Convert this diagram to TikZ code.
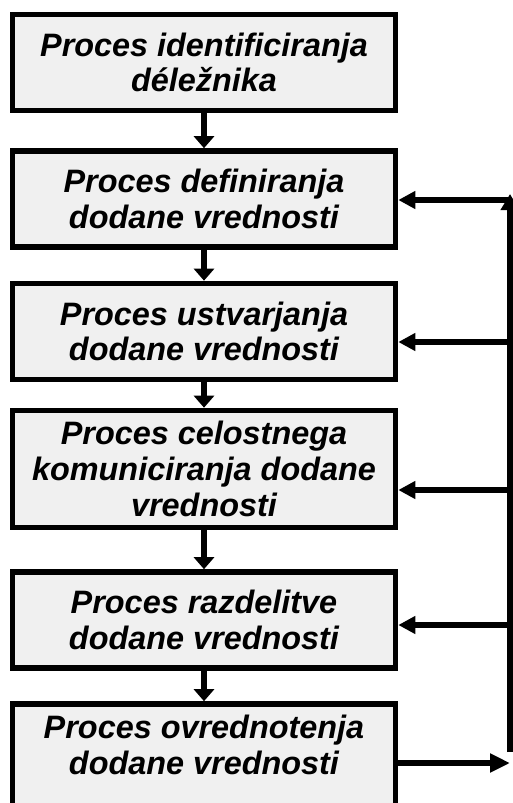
\documentclass[tikz,border=0pt]{standalone}
\usepackage{fontspec}
\setmainfont{Liberation Sans}
\usetikzlibrary{arrows.meta}

\begin{document}
\begin{tikzpicture}
  [x=0.5pt,y=-0.5pt,line width=2.8pt,
   every node/.style={rectangle,draw,fill=gray!12,minimum width=191.5pt,minimum height=48pt,align=center,font=\fontsize{16.2}{17.8}\selectfont\bfseries\itshape},
   down/.style={-{Triangle[length=6pt,width=10pt]}},
   back/.style={-{Triangle[length=8.5pt,width=8.5pt]}}]

  \useasboundingbox (0,0) rectangle (513,803);

  \node (n1) at (204,62.5)  {Proces identificiranja\\déležnika};
  \node (n2) at (204,199)   {Proces definiranja\\dodane vrednosti};
  \node (n3) at (204,331.5) {Proces ustvarjanja\\dodane vrednosti};
  \node[minimum height=58.5pt] (n4) at (204,469) {Proces celostnega\\komuniciranja dodane\\vrednosti};
  \node (n5) at (204,620)   {Proces razdelitve\\dodane vrednosti};
  \node[minimum height=54pt,text depth=13pt] (n6) at (204,758) {Proces ovrednotenja\\dodane vrednosti};
  \foreach \from/\to in {n1/n2,n2/n3,n3/n4,n4/n5,n5/n6}
    \draw[down] (\from.south) -- (\to.north);

  % feedback loop on the right
  \coordinate (r2) at (510,200);
  \coordinate (r3) at (510,342);
  \coordinate (r4) at (510,490);
  \coordinate (r5) at (510,625);
  \coordinate (r6) at (510,763);
  \coordinate (top) at (510,194);
  \coordinate (bot) at (510,752);
  \draw[-{Triangle[length=8pt,width=9pt]}] (bot) -- (top);
  \foreach \r/\n in {r2/n2,r3/n3,r4/n4,r5/n5}
    \draw[back] (\r) -- (\n.east |- \r);
  \draw[-{Triangle[length=10pt,width=9pt]}] (n6.east |- r6) -- (r6);
\end{tikzpicture}
\end{document}
